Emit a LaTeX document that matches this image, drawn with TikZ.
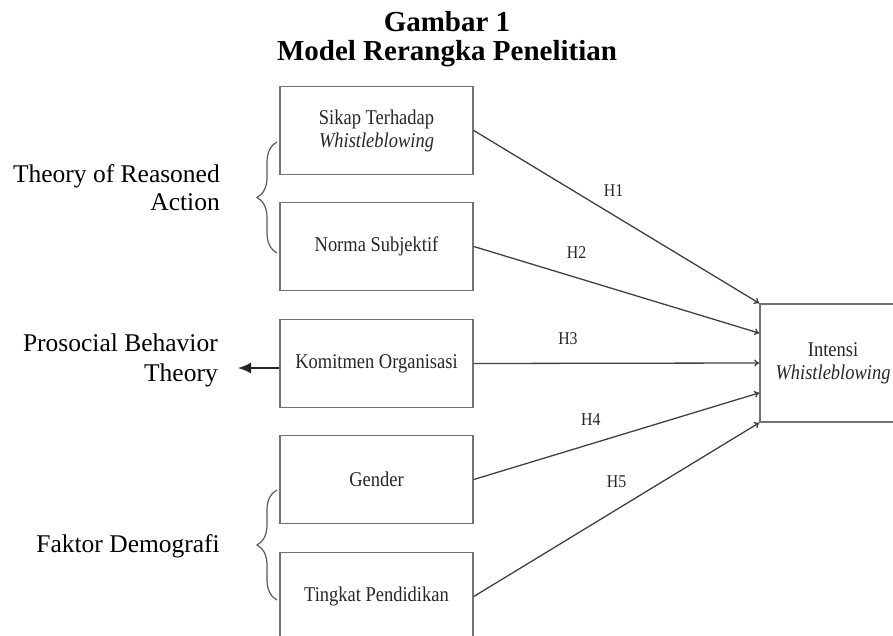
\documentclass[tikz,border=0pt]{standalone}
\usepackage{fontspec}
\setmainfont{Liberation Serif}
\newfontfamily\boxfont{Liberation Serif}[FakeStretch=0.88]
\usetikzlibrary{calc,arrows.meta,decorations.pathreplacing}

\begin{document}
\begin{tikzpicture}[x=1pt,y=-1pt,
  var/.style={draw=black!55, line width=1.5pt, minimum width=193pt, minimum height=88pt, inner sep=0pt, align=center, text=black!85, font=\boxfont\fontsize{21}{23}\selectfont},
  link/.style={draw=black!75, line width=1.3pt, -{To[length=5pt,width=7pt]}},
  hyp/.style={font=\boxfont\fontsize{18}{20}\selectfont, inner sep=0pt, text=black!85},
  teori/.style={font=\fontsize{25.5}{28}\selectfont, align=right, inner sep=0pt},
  kurung/.style={draw=black!65, line width=1.2pt, decorate, decoration={brace, amplitude=20pt}}]
\useasboundingbox (0,0) rectangle (893,636);
\node[font=\bfseries\fontsize{29}{30}\selectfont, anchor=base] (judul1) at (447,32) {Gambar 1};
\node[font=\bfseries\fontsize{29}{30}\selectfont, anchor=base] (judul2) at (447,61) {Model Rerangka Penelitian};

% variabel
\node[var] (sikap) at (376.5,130.5) {Sikap Terhadap\\\textit{Whistleblowing}};
\node[var] (norma) at (376.5,246.5) {Norma Subjektif};
\node[var] (komitmen) at (376.5,363.5) {Komitmen Organisasi};
\node[var] (gender) at (376.5,479.5) {Gender};
\node[var] (tingkat) at (376.5,596.5) {Tingkat Pendidikan};
\node[var, minimum width=146pt, minimum height=118pt] (intensi) at (833,363) {Intensi\\\textit{Whistleblowing}};

% hipotesis
\draw[link] (sikap.east) -- node[hyp, pos=0.49, yshift=25pt] {H1} (intensi.north west);
\draw[link] (norma.east) -- node[hyp, pos=0.36, yshift=25pt] {H2} ($(intensi.north west)!0.25!(intensi.south west)$);
\draw[link] (komitmen.east) -- node[hyp, pos=0.33, yshift=25pt] {H3} (intensi.west);
\draw[link] (gender.east) -- node[hyp, pos=0.41, yshift=24pt] {H4} ($(intensi.north west)!0.75!(intensi.south west)$);
\draw[link] (tingkat.east) -- node[hyp, pos=0.5, yshift=28pt] {H5} (intensi.south west);

% teori
\node[teori, anchor=north east] (tra) at (220,164) {Theory of Reasoned\\Action};
\node[teori, font=\fontsize{25.5}{30}\selectfont, anchor=north east] (prososial) at (218,334) {Prosocial Behavior\\Theory};
\node[teori, anchor=base east] (demografi) at (220,552) {Faktor Demografi};
\draw[kurung] (277,253) -- (277,142); % TRA
\draw[kurung] (277,600) -- (277,490); % demografi
\coordinate (panah) at ($(komitmen.west)+(0,4.5)$);
\draw[line width=1.5pt, black!85, -{Latex[length=13pt,width=11pt]}, shorten >=20pt] (panah) -- (panah -| prososial.east);
\end{tikzpicture}
\end{document}
